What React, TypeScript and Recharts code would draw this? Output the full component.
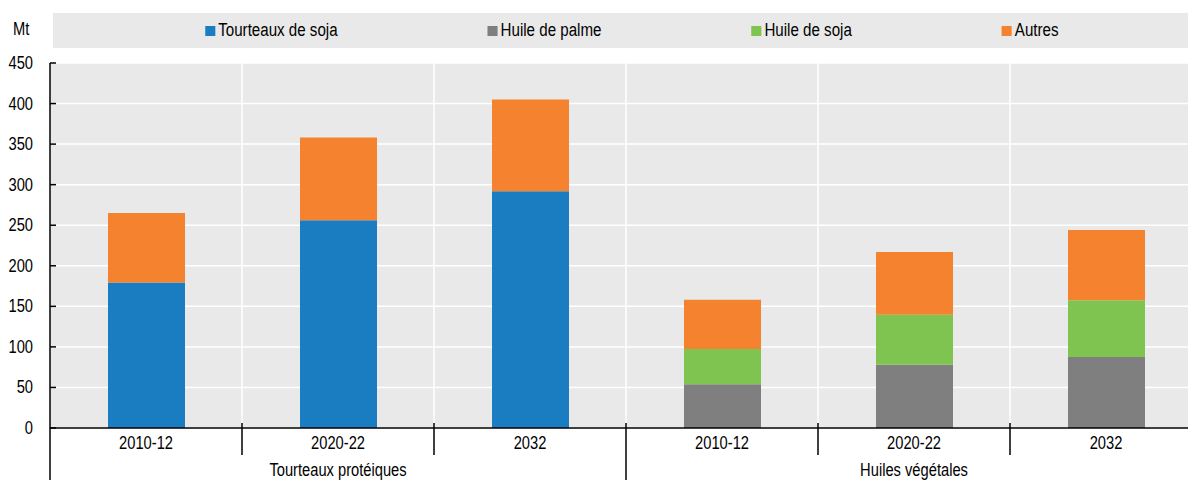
import React from 'react';
import { BarChart, Bar, XAxis, YAxis, CartesianGrid, Legend } from 'recharts';

const periods = ['2010-12', '2020-22', '2032', '2010-12', '2020-22', '2032'];
const groupLabels = ['Tourteaux protéiques', 'Huiles végétales'];
const groupSizes = [3, 3];
const tourteauxSoja = [179.5, 256, 292, null, null, null];
const huilePalme = [null, null, null, 54, 78, 87.5];
const huileSoja = [null, null, null, 43.5, 61.5, 70];
const autres = [85.5, 102, 113, 60.5, 77.5, 86.5];
const yTicks = [0, 50, 100, 150, 200, 250, 300, 350, 400, 450];
const unitLabel = 'Mt';

const FONT = "'Liberation Sans', Arial, sans-serif";
const SX = 0.84;

const series = [
  { key: 'tourteauxSoja', name: 'Tourteaux de soja', color: '#1a7dc1', values: tourteauxSoja },
  { key: 'huilePalme', name: 'Huile de palme', color: '#7f7f7f', values: huilePalme },
  { key: 'huileSoja', name: 'Huile de soja', color: '#7fc451', values: huileSoja },
  { key: 'autres', name: 'Autres', color: '#f5822f', values: autres },
];

const data = periods.map((p, i) => {
  const row: any = { period: p };
  series.forEach((s) => {
    row[s.key] = s.values[i];
  });
  return row;
});

const groupStarts: number[] = [];
{
  let acc = 0;
  groupSizes.forEach((n) => {
    groupStarts.push(acc);
    acc += n;
  });
}

const NarrowText = ({ x, y, anchor, children }: any) => (
  <text
    transform={`translate(${x},${y}) scale(${SX},1)`}
    x={0}
    y={0}
    textAnchor={anchor}
    fontSize={17.5}
    fontFamily={FONT}
    fill="#000"
  >
    {children}
  </text>
);

const XTick = (props: any) => {
  const { x, y, payload, index, width, visibleTicksCount } = props;
  const bw = width / visibleTicksCount;
  const left = x - bw / 2;
  const gi = groupStarts.indexOf(index);
  let sepTop = y - 5;
  let sepBottom = y + 27;
  if (index === 0) {
    sepTop = y;
    sepBottom = y + 52;
  } else if (gi >= 0) {
    sepBottom = y + 52;
  }
  return (
    <g>
      <line x1={left} x2={left} y1={sepTop} y2={sepBottom} stroke="#000" strokeWidth={1.5} />
      <NarrowText x={x} y={y + 21} anchor="middle">
        {payload.value}
      </NarrowText>
      {gi >= 0 && (
        <NarrowText x={x + ((groupSizes[gi] - 1) * bw) / 2} y={y + 48} anchor="middle">
          {groupLabels[gi]}
        </NarrowText>
      )}
    </g>
  );
};

const YTick = (props: any) => {
  const { x, y, payload } = props;
  return (
    <g>
      <line x1={x + 17} x2={x + 23} y1={y} y2={y} stroke="#000" strokeWidth={1.5} />
      <NarrowText x={x} y={y + 6} anchor="end">
        {payload.value}
      </NarrowText>
    </g>
  );
};

const LegendContent = () => (
  <div style={{ position: 'relative', width: 1188, height: 35, fontFamily: FONT }}>
    <div
      style={{
        position: 'absolute',
        left: 13,
        top: 6,
        fontSize: 17.5,
        color: '#000',
        transform: `scaleX(${SX})`,
        transformOrigin: 'left center',
      }}
    >
      {unitLabel}
    </div>
    <div
      style={{
        position: 'absolute',
        left: 53,
        top: 0,
        width: 1135,
        height: 35,
        boxSizing: 'border-box',
        paddingLeft: 22,
        background: '#e9e9e9',
        display: 'flex',
        justifyContent: 'center',
        alignItems: 'center',
      }}
    >
      <div
        style={{
          display: 'flex',
          alignItems: 'center',
          gap: 150 / SX,
          transform: `scaleX(${SX})`,
          transformOrigin: 'center center',
          whiteSpace: 'nowrap',
        }}
      >
        {series.map((s) => (
          <div key={s.key} style={{ display: 'flex', alignItems: 'center', fontSize: 18, color: '#000' }}>
            <span
              style={{ display: 'inline-block', width: 10 / SX, height: 10, background: s.color, marginRight: 3 / SX }}
            />
            <span>{s.name}</span>
          </div>
        ))}
      </div>
    </div>
  </div>
);

export default function App() {
  return (
    <div style={{ position: 'absolute', left: 0, top: 0, width: 1188, height: 480, overflow: 'hidden', background: '#fff' }}>
      <BarChart width={1202} height={480} data={data} margin={{ top: 63, right: 0, left: 0, bottom: 0 }}>
        <CartesianGrid
          fill="#e9e9e9"
          stroke="#ffffff"
          strokeWidth={1.5}
          verticalCoordinatesGenerator={({ offset }: any) =>
            periods.slice(1).map((_, i) => offset.left + ((i + 1) * offset.width) / periods.length)
          }
        />
        <XAxis
          dataKey="period"
          height={52}
          axisLine={{ stroke: '#000', strokeWidth: 1.5 }}
          tickLine={false}
          tickSize={0}
          tickMargin={0}
          interval={0}
          tick={<XTick />}
        />
        <YAxis
          width={50}
          domain={[0, 450]}
          ticks={yTicks}
          interval={0}
          axisLine={{ stroke: '#000', strokeWidth: 1.5 }}
          tickLine={false}
          tickSize={0}
          tickMargin={17}
          tick={<YTick />}
        />
        <Legend
          layout="horizontal"
          verticalAlign="middle"
          align="center"
          content={<LegendContent />}
          wrapperStyle={{ position: 'absolute', top: 13, left: 0, width: 1188, height: 35 }}
        />
        {series.map((s) => (
          <Bar key={s.key} dataKey={s.key} name={s.name} stackId="a" fill={s.color} barSize={77} isAnimationActive={false} />
        ))}
      </BarChart>
    </div>
  );
}
